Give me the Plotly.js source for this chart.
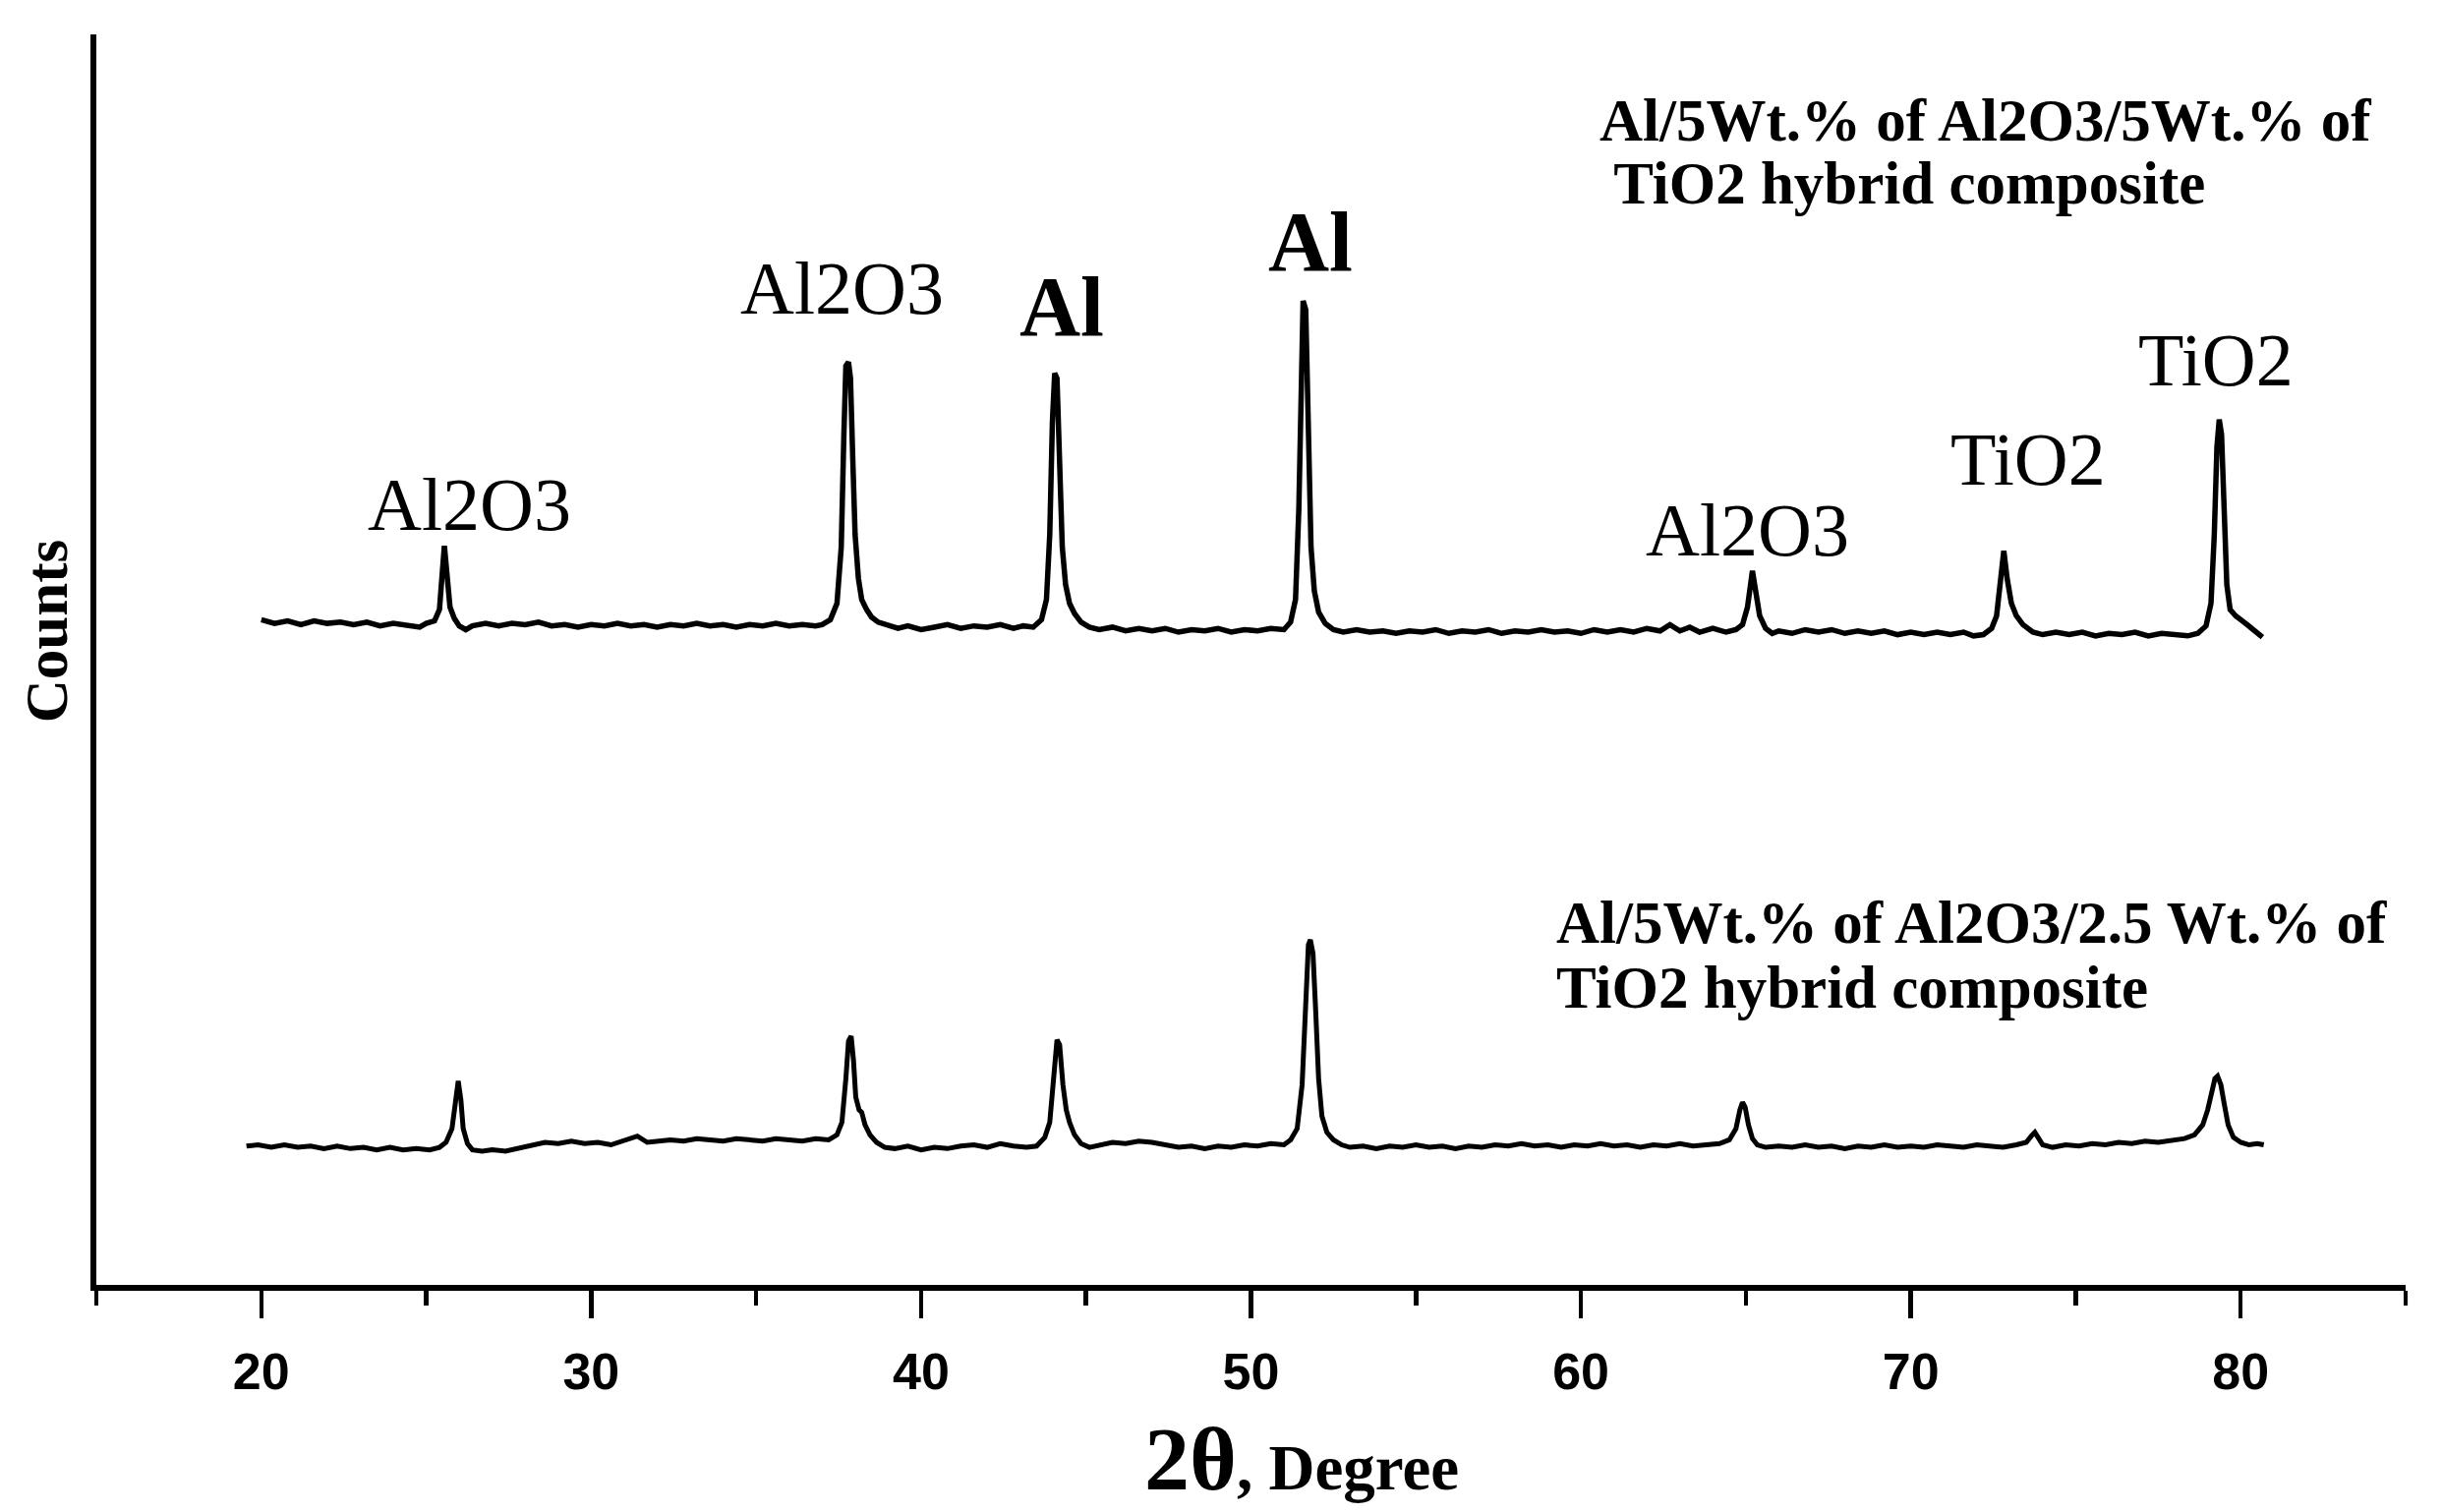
<!DOCTYPE html>
<html>
<head>
<meta charset="utf-8">
<script src="https://cdn.plot.ly/plotly-3.0.1.min.js"></script>
<style>html,body{margin:0;padding:0;background:#fff;}#chart{width:2484px;height:1538px;}</style>
</head>
<body>
<div id="chart"></div>
<script>
// ---- Data (2θ in degrees, counts in arbitrary units, stacked patterns) ----
const topX = [20.0,20.4,20.8,21.2,21.6,22.0,22.4,22.8,23.2,23.6,24.0,24.4,24.8,25.0,25.25,25.4,25.47,25.55,25.63,25.72,25.85,26.0,26.2,26.4,26.8,27.2,27.6,28.0,28.4,28.8,29.2,29.6,30.0,30.4,30.8,31.2,31.6,32.0,32.4,32.8,33.2,33.6,34.0,34.4,34.8,35.2,35.6,36.0,36.4,36.8,37.0,37.25,37.45,37.58,37.66,37.72,37.8,37.86,37.93,38.0,38.1,38.2,38.35,38.5,38.7,39.0,39.3,39.6,40.0,40.4,40.8,41.2,41.6,42.0,42.4,42.8,43.1,43.4,43.65,43.8,43.9,43.98,44.05,44.12,44.2,44.28,44.38,44.5,44.65,44.85,45.1,45.4,45.8,46.2,46.6,47.0,47.4,47.8,48.2,48.6,49.0,49.4,49.8,50.2,50.6,51.0,51.2,51.35,51.45,51.52,51.58,51.66,51.74,51.82,51.92,52.05,52.25,52.5,52.8,53.2,53.6,54.0,54.4,54.8,55.2,55.6,56.0,56.4,56.8,57.2,57.6,58.0,58.4,58.8,59.2,59.6,60.0,60.4,60.8,61.2,61.6,62.0,62.4,62.7,63.0,63.3,63.6,64.0,64.4,64.7,64.9,65.05,65.2,65.3,65.42,65.6,65.8,66.0,66.4,66.8,67.2,67.6,68.0,68.4,68.8,69.2,69.6,70.0,70.4,70.8,71.2,71.6,71.9,72.2,72.45,72.6,72.72,72.82,72.92,73.05,73.2,73.4,73.7,74.0,74.4,74.8,75.2,75.6,76.0,76.4,76.8,77.2,77.6,78.0,78.4,78.7,78.95,79.1,79.2,79.28,79.35,79.42,79.5,79.58,79.68,79.85,80.1,80.4,80.66];
const topY = [532,529,531,528,531,529,530,528,530,527,529,527,526,529,531,540,565,591,568,542,533,527,524,527,529,527,529,528,530,527,528,526,528,527,529,527,528,526,528,527,529,527,528,526,528,527,529,527,528,527,528,532,545,590,680,735,738,725,660,600,565,548,540,534,530,527,525,527,524,526,528,525,527,526,528,525,527,526,532,548,600,690,729,725,650,590,560,545,537,530,526,524,526,523,525,523,525,522,524,523,525,522,524,523,525,524,530,548,620,730,787,780,680,590,555,538,529,524,522,524,522,523,521,523,522,524,521,523,522,524,521,523,522,524,522,523,521,524,522,524,522,525,523,528,523,526,522,525,522,524,528,542,571,555,535,525,521,523,521,524,522,524,521,523,521,523,520,522,520,522,520,522,519,520,525,535,560,587,565,545,535,528,522,520,522,520,522,519,521,520,522,519,521,520,519,521,527,545,600,670,692,680,620,560,540,535,530,524,518];

const bottomX = [19.55,19.9,20.3,20.7,21.1,21.5,21.9,22.3,22.7,23.1,23.5,23.9,24.3,24.7,25.1,25.4,25.6,25.78,25.88,25.97,26.05,26.12,26.25,26.4,26.7,27.0,27.4,27.8,28.2,28.6,29.0,29.4,29.8,30.2,30.6,31.0,31.4,31.7,32.0,32.4,32.8,33.2,33.6,34.0,34.4,34.8,35.2,35.6,36.0,36.4,36.8,37.2,37.45,37.6,37.72,37.8,37.88,37.95,38.02,38.12,38.2,38.3,38.45,38.65,38.9,39.2,39.6,40.0,40.4,40.8,41.2,41.6,42.0,42.4,42.8,43.2,43.5,43.75,43.9,44.02,44.12,44.2,44.3,44.4,44.5,44.65,44.85,45.1,45.4,45.8,46.2,46.6,47.0,47.4,47.8,48.2,48.6,49.0,49.4,49.8,50.2,50.6,51.0,51.2,51.4,51.55,51.65,51.74,51.8,51.88,51.96,52.05,52.15,52.3,52.5,52.75,53.0,53.4,53.8,54.2,54.6,55.0,55.4,55.8,56.2,56.6,57.0,57.4,57.8,58.2,58.6,59.0,59.4,59.8,60.2,60.6,61.0,61.4,61.8,62.2,62.6,63.0,63.4,63.8,64.2,64.5,64.7,64.82,64.9,64.98,65.08,65.2,65.35,65.6,66.0,66.4,66.8,67.2,67.6,68.0,68.4,68.8,69.2,69.6,70.0,70.4,70.8,71.2,71.6,72.0,72.4,72.8,73.2,73.5,73.65,73.76,73.88,74.0,74.3,74.7,75.1,75.5,75.9,76.3,76.7,77.1,77.5,77.9,78.3,78.6,78.85,79.0,79.12,79.22,79.3,79.4,79.5,79.62,79.78,80.0,80.25,80.5,80.7];
const bottomY = [111,112,110,112,110,111,109,111,109,110,108,110,108,109,108,110,114,125,145,163,148,125,113,108,107,108,107,109,112,114,113,115,113,114,112,115,119,114,115,116,115,117,116,115,117,116,115,117,116,115,117,116,120,130,165,195,199,180,150,140,138,128,120,114,110,109,111,108,110,109,111,112,110,113,111,110,111,118,130,165,196,192,160,140,130,120,113,110,112,114,113,115,114,112,110,111,109,111,110,112,111,113,112,116,125,160,230,272,276,265,220,165,135,122,116,112,110,111,109,111,110,112,110,111,109,111,110,112,111,113,111,112,110,112,111,113,111,112,110,112,111,113,111,112,113,116,125,140,146,142,128,117,112,110,111,110,112,110,111,109,111,110,112,110,111,110,112,111,110,112,111,110,112,114,119,122,117,112,110,112,111,113,112,114,113,115,114,116,117,120,128,140,155,165,167,160,145,128,118,114,112,113,112];

const peakLabels = ["Al2O3","Al2O3","Al","Al","Al2O3","TiO2","TiO2"];
const peakLabelX = [26.3,37.6,44.25,51.8,65.05,73.55,79.25];
const peakLabelY = [624,797,782,834,604,660,740];
const peakLabelBold = [false,false,true,true,false,false,false];

const sampleNames = [
  ["Al/5Wt.% of Al2O3/5Wt.% of", " TiO2 hybrid composite"],
  ["Al/5Wt.% of Al2O3/2.5 Wt.% of", "TiO2 hybrid composite"]
];
const sampleNameX = [[60.5,60.5],[59.2,59.2]];
const sampleNameY = [[931,881],[290,238]];

const xTickVals = [20,30,40,50,60,70,80];
const xTickText = ["20","30","40","50","60","70","80"];
const xTitleMain = "2θ";
const xTitleUnit = ", Degree";
const yTitle = "Counts";

// ---- Chart ----
const serif = "Liberation Serif, Times New Roman, serif";
const narrow = "Liberation Sans Narrow, Arial Narrow, Liberation Sans, Arial, sans-serif";

const traces = [
  {x: topX, y: topY, mode: "lines", line: {color: "#000", width: 5.5}, hoverinfo: "skip"},
  {x: bottomX, y: bottomY, mode: "lines", line: {color: "#000", width: 5}, hoverinfo: "skip"}
];

const annotations = [];
peakLabels.forEach((t, i) => {
  annotations.push({
    x: peakLabelX[i], y: peakLabelY[i], xref: "x", yref: "y",
    text: peakLabelBold[i] ? "<b>" + t + "</b>" : t,
    showarrow: false, xanchor: "center", yanchor: "middle",
    font: {family: serif, size: peakLabelBold[i] ? 86 : 76, color: "#000"}
  });
});
sampleNames.forEach((lines, i) => {
  lines.forEach((t, j) => {
    annotations.push({
      x: sampleNameX[i][j], y: sampleNameY[i][j], xref: "x", yref: "y",
      text: "<b>" + t + "</b>", showarrow: false, xanchor: "left", yanchor: "middle",
      font: {family: serif, size: 61, color: "#000"}
    });
  });
});
annotations.push({
  x: 0.522, y: -0.139, xref: "paper", yref: "paper",
  text: "<b><span style='font-size:92px'>" + xTitleMain + "</span>" + xTitleUnit + "</b>",
  showarrow: false, xanchor: "center", yanchor: "middle",
  font: {family: serif, size: 65, color: "#000"}
});
annotations.push({
  x: -0.0215, y: 0.523, xref: "paper", yref: "paper",
  text: "<b>" + yTitle + "</b>", textangle: -90,
  showarrow: false, xanchor: "center", yanchor: "middle",
  font: {family: serif, size: 61, color: "#000"}
});

const layout = {
  width: 2484, height: 1538,
  margin: {l: 98, r: 37, t: 35, b: 231, pad: 0},
  paper_bgcolor: "#fff", plot_bgcolor: "#fff",
  showlegend: false,
  xaxis: {
    range: [15, 85], showgrid: false, zeroline: false,
    showline: true, linecolor: "#000", linewidth: 6,
    ticks: "outside", ticklen: 28, tickwidth: 4.5, tickcolor: "#000",
    tickvals: xTickVals, ticktext: xTickText,
    tickfont: {family: narrow, size: 52, color: "#000", weight: "bold"},
    ticklabelstandoff: 10,
    minor: {ticks: "outside", dtick: 5, tick0: 0, ticklen: 15, tickwidth: 4.5, tickcolor: "#000", showgrid: false}
  },
  yaxis: {
    range: [0, 1000], showgrid: false, zeroline: false,
    showline: true, linecolor: "#000", linewidth: 6,
    ticks: "", showticklabels: false
  },
  annotations: annotations
};

Plotly.newPlot("chart", traces, layout, {displayModeBar: false, staticPlot: true});
</script>
</body>
</html>
